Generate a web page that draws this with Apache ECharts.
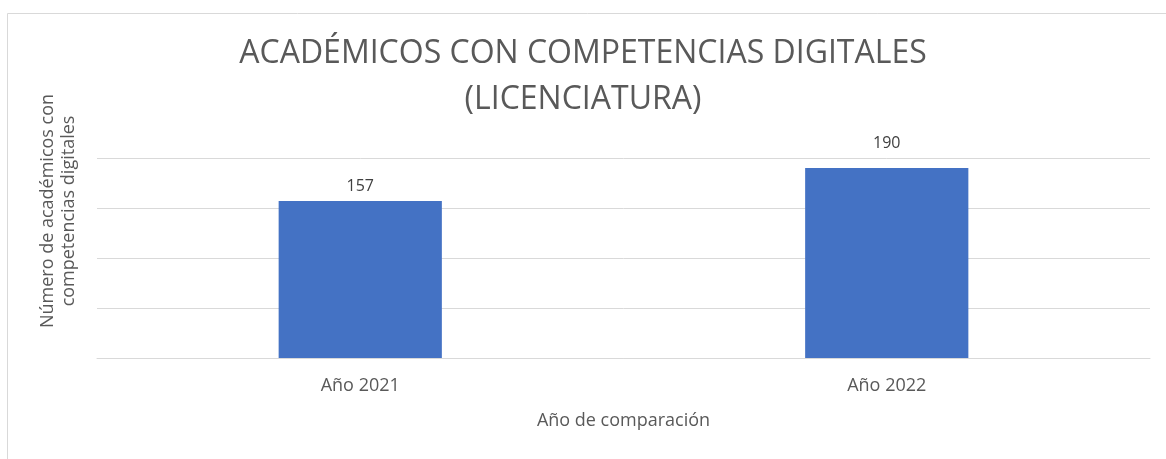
<!DOCTYPE html>
<html>
<head>
<meta charset="utf-8">
<script src="https://cdn.jsdelivr.net/npm/echarts@6/dist/echarts.min.js"></script>
<style>
  html, body { margin: 0; padding: 0; background: #fff; }
  #chart { width: 1166px; height: 459px; }
</style>
</head>
<body>
<div id="chart"></div>
<script>
// datos del gráfico
var categorias = ['Año 2021', 'Año 2022'];
var academicos = [157, 190];

var fuente = 'Open Sans';
var chart = echarts.init(document.getElementById('chart'));

// la etiqueta de 2022 queda más separada de la barra (por encima de la línea de 200)
var datosBarra = academicos.map(function (v, i) {
    return { value: v, label: { distance: i === 1 ? 17 : 7 } };
});

var option = {
    backgroundColor: '#fff',
    textStyle: { fontFamily: fuente },
    graphic: [{
        type: 'rect',
        shape: { x: 7.5, y: 13.5, width: 1200, height: 500 },
        style: { fill: 'none', stroke: '#d9d9d9', lineWidth: 1 },
        silent: true
    }],
    title: {
        text: 'ACADÉMICOS CON COMPETENCIAS DIGITALES\n(LICENCIATURA)',
        left: 'center',
        top: 26,
        textStyle: {
            fontFamily: fuente,
            fontSize: 32,
            fontWeight: 'normal',
            color: '#595959',
            lineHeight: 46
        }
    },
    grid: { left: 97, right: 16, top: 158, bottom: 101 },
    xAxis: {
        type: 'category',
        data: categorias,
        name: 'Año de comparación',
        nameLocation: 'middle',
        nameGap: 54,
        nameTextStyle: { fontFamily: fuente, fontSize: 18, color: '#595959' },
        axisLine: { lineStyle: { color: '#d9d9d9', width: 1 } },
        axisTick: { show: false },
        axisLabel: { fontFamily: fuente, fontSize: 18, color: '#595959', margin: 19 }
    },
    yAxis: {
        type: 'value',
        min: 0,
        max: 200,
        interval: 50,
        name: 'Número de académicos con\ncompetencias digitales',
        nameLocation: 'middle',
        nameRotate: 90,
        nameGap: 18,
        // el título del eje queda algo por encima del centro, como en el original
        nameTextStyle: { fontFamily: fuente, fontSize: 18, color: '#595959', lineHeight: 21, padding: [0, 0, 0, 94] },
        axisLine: { show: false },
        axisTick: { show: false },
        axisLabel: { show: false },
        splitLine: { lineStyle: { color: '#d9d9d9', width: 1 } }
    },
    series: [{
        type: 'bar',
        data: datosBarra,
        barWidth: '31%',
        itemStyle: { color: '#4472c4' },
        label: {
            show: true,
            position: 'top',
            fontFamily: fuente,
            fontSize: 16,
            color: '#404040'
        }
    }]
};

chart.setOption(option);
</script>
</body>
</html>
